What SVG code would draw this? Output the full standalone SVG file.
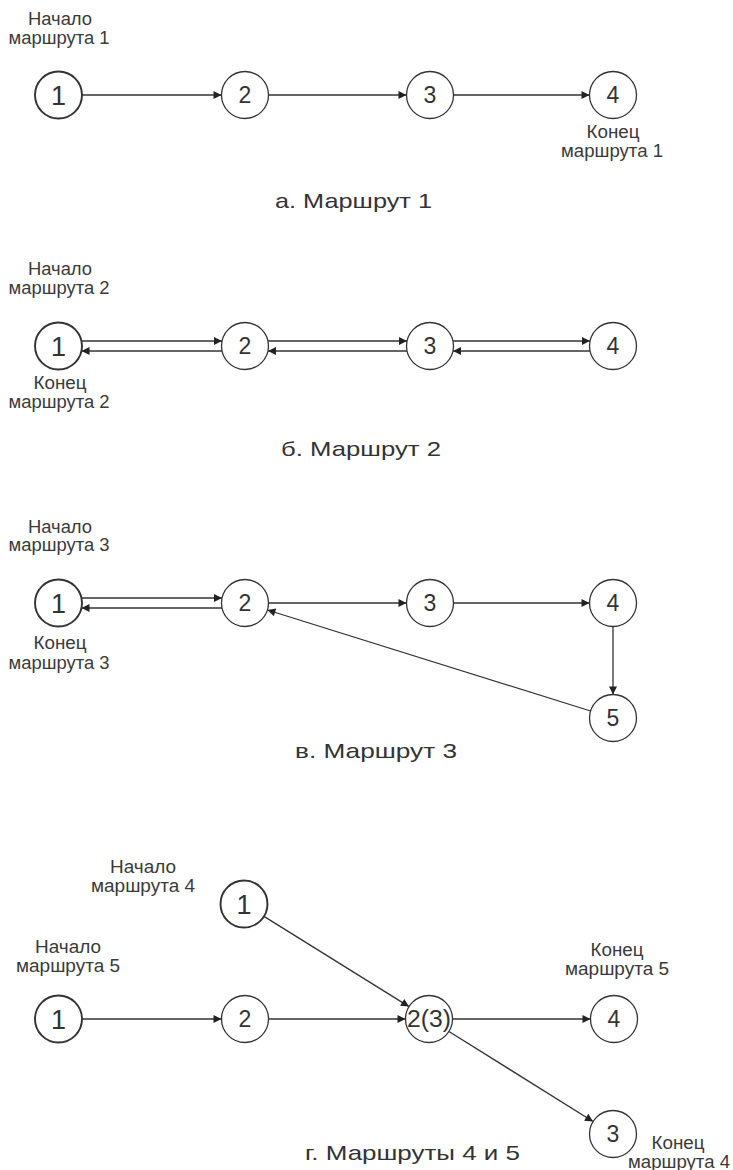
<svg xmlns="http://www.w3.org/2000/svg" width="733" height="1170" viewBox="0 0 733 1170">
<style>
.n circle{fill:#fff;stroke:#333;stroke-width:1.3}
.n.s circle{stroke-width:1.9}
.n text{font-family:"Liberation Sans",Arial,sans-serif;font-size:23px;fill:#333;text-anchor:middle}
.n.s text{font-size:27px}
.lbl{font-family:"Liberation Sans",Arial,sans-serif;font-size:17.5px;fill:#3a3a3a;text-anchor:middle}
.cap{font-family:"Liberation Sans",Arial,sans-serif;font-size:21px;fill:#333}
.e line{stroke:#333;stroke-width:1.3;marker-end:url(#arr)}
</style>
<defs>
<marker id="arr" viewBox="0 0 10 10" refX="10" refY="5" markerWidth="11" markerHeight="8" markerUnits="userSpaceOnUse" orient="auto"><path d="M0,0 L10,5 L0,10 z" fill="#222"/></marker>
</defs>
<rect width="733" height="1170" fill="#fff"/>

<!-- connectors -->
<g id="connectors" class="e">
<!-- a -->
<line x1="82" y1="95" x2="221.5" y2="95"/>
<line x1="268.5" y1="95" x2="406.5" y2="95"/>
<line x1="453.5" y1="95" x2="589.5" y2="95"/>
<!-- b -->
<line x1="81.5" y1="341" x2="222" y2="341"/>
<line x1="222" y1="351" x2="81.5" y2="351"/>
<line x1="268" y1="341" x2="407" y2="341"/>
<line x1="407" y1="351" x2="268" y2="351"/>
<line x1="453" y1="341" x2="590" y2="341"/>
<line x1="590" y1="351" x2="453" y2="351"/>
<!-- c -->
<line x1="81.5" y1="598" x2="222" y2="598"/>
<line x1="222" y1="608" x2="81.5" y2="608"/>
<line x1="268.5" y1="603" x2="406.5" y2="603"/>
<line x1="453.5" y1="603" x2="589.5" y2="603"/>
<line x1="613" y1="626.5" x2="613" y2="694.5"/>
<line x1="590.6" y1="711" x2="267.4" y2="610"/>
<!-- d -->
<line x1="264" y1="916.4" x2="409" y2="1006.6"/>
<line x1="81.5" y1="1019" x2="221.5" y2="1019"/>
<line x1="268.5" y1="1019" x2="405.5" y2="1019"/>
<line x1="452.5" y1="1019" x2="590.5" y2="1019"/>
<line x1="449" y1="1031.5" x2="593" y2="1121.5"/>
</g>

<!-- section a -->
<g id="a1" class="n s"><circle cx="58.5" cy="95" r="23.5"/><text x="58.5" y="104.5">1</text></g>
<g id="a2" class="n"><circle cx="245" cy="95" r="23.5"/><text x="245" y="103">2</text></g>
<g id="a3" class="n"><circle cx="430" cy="95" r="23.5"/><text x="430" y="103">3</text></g>
<g id="a4" class="n"><circle cx="613" cy="95" r="23.5"/><text x="613" y="103">4</text></g>
<text class="lbl" x="60" y="25" textLength="64" lengthAdjust="spacingAndGlyphs">Начало</text>
<text class="lbl" x="59" y="44" textLength="101" lengthAdjust="spacingAndGlyphs">маршрута 1</text>
<text class="lbl" x="613" y="138" textLength="53" lengthAdjust="spacingAndGlyphs">Конец</text>
<text class="lbl" x="612" y="157" textLength="102" lengthAdjust="spacingAndGlyphs">маршрута 1</text>
<text class="cap" x="275" y="208" textLength="157" lengthAdjust="spacingAndGlyphs">а. Маршрут 1</text>

<!-- section b -->
<g id="b1" class="n s"><circle cx="58.5" cy="346" r="23.5"/><text x="58.5" y="355.5">1</text></g>
<g id="b2" class="n"><circle cx="245" cy="346" r="23.5"/><text x="245" y="354">2</text></g>
<g id="b3" class="n"><circle cx="430" cy="346" r="23.5"/><text x="430" y="354">3</text></g>
<g id="b4" class="n"><circle cx="613" cy="346" r="23.5"/><text x="613" y="354">4</text></g>
<text class="lbl" x="60" y="275" textLength="64" lengthAdjust="spacingAndGlyphs">Начало</text>
<text class="lbl" x="59" y="294" textLength="101" lengthAdjust="spacingAndGlyphs">маршрута 2</text>
<text class="lbl" x="60" y="389" textLength="53" lengthAdjust="spacingAndGlyphs">Конец</text>
<text class="lbl" x="59" y="408" textLength="101" lengthAdjust="spacingAndGlyphs">маршрута 2</text>
<text class="cap" x="281" y="456" textLength="160" lengthAdjust="spacingAndGlyphs">б. Маршрут 2</text>

<!-- section c -->
<g id="c1" class="n s"><circle cx="58.5" cy="603" r="23.5"/><text x="58.5" y="612.5">1</text></g>
<g id="c2" class="n"><circle cx="245" cy="603" r="23.5"/><text x="245" y="611">2</text></g>
<g id="c3" class="n"><circle cx="430" cy="603" r="23.5"/><text x="430" y="611">3</text></g>
<g id="c4" class="n"><circle cx="613" cy="603" r="23.5"/><text x="613" y="611">4</text></g>
<g id="c5" class="n"><circle cx="613" cy="718" r="23.5"/><text x="613" y="726">5</text></g>
<text class="lbl" x="60" y="533" textLength="64" lengthAdjust="spacingAndGlyphs">Начало</text>
<text class="lbl" x="59" y="551" textLength="101" lengthAdjust="spacingAndGlyphs">маршрута 3</text>
<text class="lbl" x="60" y="649" textLength="53" lengthAdjust="spacingAndGlyphs">Конец</text>
<text class="lbl" x="59" y="669" textLength="101" lengthAdjust="spacingAndGlyphs">маршрута 3</text>
<text class="cap" x="295" y="758" textLength="162" lengthAdjust="spacingAndGlyphs">в. Маршрут 3</text>

<!-- section d -->
<g id="d1top" class="n s"><circle cx="244" cy="904" r="23.5"/><text x="244" y="913.5">1</text></g>
<g id="d1" class="n s"><circle cx="58.5" cy="1019" r="23.5"/><text x="58.5" y="1028.5">1</text></g>
<g id="d2" class="n"><circle cx="245" cy="1019" r="23.5"/><text x="245" y="1027">2</text></g>
<g id="d23" class="n"><circle cx="429" cy="1019" r="23.5"/><text x="429" y="1027" textLength="44" lengthAdjust="spacingAndGlyphs">2(3)</text></g>
<g id="d4" class="n"><circle cx="614" cy="1019" r="23.5"/><text x="614" y="1027">4</text></g>
<g id="d3" class="n"><circle cx="613" cy="1134" r="23.5"/><text x="613" y="1142">3</text></g>
<text class="lbl" x="143" y="873" textLength="66" lengthAdjust="spacingAndGlyphs">Начало</text>
<text class="lbl" x="143" y="892" textLength="104" lengthAdjust="spacingAndGlyphs">маршрута 4</text>
<text class="lbl" x="68" y="953" textLength="66" lengthAdjust="spacingAndGlyphs">Начало</text>
<text class="lbl" x="68" y="972" textLength="104" lengthAdjust="spacingAndGlyphs">маршрута 5</text>
<text class="lbl" x="617" y="956" textLength="53" lengthAdjust="spacingAndGlyphs">Конец</text>
<text class="lbl" x="617" y="975" textLength="104" lengthAdjust="spacingAndGlyphs">маршрута 5</text>
<text class="lbl" x="678" y="1149" textLength="53" lengthAdjust="spacingAndGlyphs">Конец</text>
<text class="lbl" x="679" y="1168" textLength="102" lengthAdjust="spacingAndGlyphs">маршрута 4</text>
<text class="cap" x="305" y="1160" textLength="215" lengthAdjust="spacingAndGlyphs">г. Маршруты 4 и 5</text>
</svg>
